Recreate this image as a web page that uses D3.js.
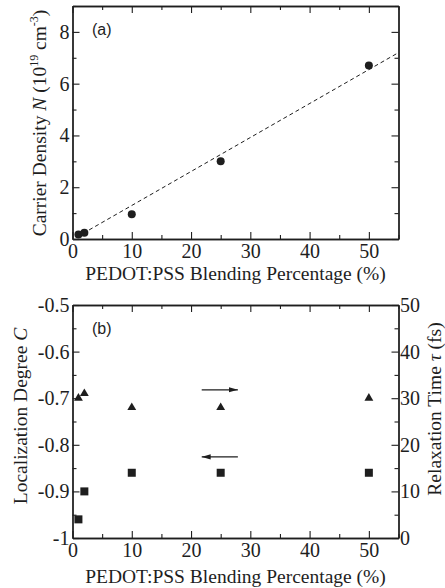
<!DOCTYPE html>
<html>
<head>
<meta charset="utf-8">
<script src="https://cdn.jsdelivr.net/npm/d3@7"></script>
<style>
  body { margin: 0; background: #fff; }
  svg text { font-family: "Liberation Serif", "DejaVu Serif", serif; }
  svg text.tag { font-family: "Liberation Sans", Arial, sans-serif; }
</style>
</head>
<body>
<svg id="chart"></svg>
<script>
// values
const blendPct = [1, 2, 10, 25, 50];
const carrierDensity = [0.17, 0.24, 0.96, 3.0, 6.7];   // 10^19 cm^-3
const fitLine = [[2.8, 0.35], [55, 7.2]];               // dashed guide line
const localization = [-0.96, -0.90, -0.86, -0.86, -0.86];
const relaxTime = [30, 31, 28, 28, 30];                 // fs
const arrowRight = { x0: 21.8, x1: 27.9, c: -0.682 };   // points to tau axis
const arrowLeft = { x0: 27.9, x1: 21.8, c: -0.826 };    // points to C axis

const xMajor = [0, 10, 20, 30, 40, 50];
const xMinor = [5, 15, 25, 35, 45, 55];
const nMajor = [0, 2, 4, 6, 8];
const nMinor = [1, 3, 5, 7, 9];
const cMajor = [-1, -0.9, -0.8, -0.7, -0.6, -0.5];
const cMinor = [-0.95, -0.85, -0.75, -0.65, -0.55];
const cLabels = ["-1", "-0.9", "-0.8", "-0.7", "-0.6", "-0.5"];
const tauMajor = [0, 10, 20, 30, 40, 50];
const tauMinor = [5, 15, 25, 35, 45];

const width = 445;
const height = 588;
const ink = "#1e1e1e";

const svg = d3.select("#chart")
    .attr("width", width)
    .attr("height", height);

const left = 72.5, right = 398.5;
const x = d3.scaleLinear().domain([0, 55]).range([left, right]);

const yN = d3.scaleLinear().domain([0, 9]).range([239, 6]);
const yC = d3.scaleLinear().domain([-1, -0.5]).range([538, 305]);
const yTau = d3.scaleLinear().domain([0, 50]).range([538, 305]);

function styleAxis(g) {
    g.attr("font-family", null).attr("font-size", 20);
    g.selectAll("path.domain").attr("stroke", ink).attr("stroke-width", 1.3);
    g.selectAll("line").attr("stroke", ink).attr("stroke-width", 1.1);
    g.selectAll("text").attr("fill", ink);
}

// one framed panel: ticks point inward on all four sides
function frame(yScale, yMajor, yMinor, yFmt, yRight) {
    const [y0, y1] = yScale.range();
    const hideLabels = g => g.selectAll("text").remove();

    svg.append("g")
        .attr("transform", `translate(0,${y0})`)
        .call(d3.axisBottom(x).tickValues(xMajor).tickSize(-7).tickSizeOuter(0).tickPadding(4.5))
        .call(styleAxis);
    svg.append("g")
        .attr("transform", `translate(0,${y0})`)
        .call(d3.axisBottom(x).tickValues(xMinor).tickSize(-4).tickSizeOuter(0).tickFormat(""))
        .call(styleAxis);
    svg.append("g")
        .attr("transform", `translate(0,${y1})`)
        .call(d3.axisTop(x).tickValues(xMajor).tickSize(-7).tickSizeOuter(0))
        .call(hideLabels).call(styleAxis);
    svg.append("g")
        .attr("transform", `translate(0,${y1})`)
        .call(d3.axisTop(x).tickValues(xMinor).tickSize(-4).tickSizeOuter(0).tickFormat(""))
        .call(styleAxis);

    svg.append("g")
        .attr("transform", `translate(${left},0)`)
        .call(d3.axisLeft(yScale).tickValues(yMajor).tickSize(-7).tickSizeOuter(0).tickPadding(3).tickFormat(yFmt))
        .call(styleAxis);
    svg.append("g")
        .attr("transform", `translate(${left},0)`)
        .call(d3.axisLeft(yScale).tickValues(yMinor).tickSize(-4).tickSizeOuter(0).tickFormat(""))
        .call(styleAxis);

    const rScale = yRight ? yRight.scale : yScale;
    const rAxis = svg.append("g")
        .attr("transform", `translate(${right},0)`)
        .call(d3.axisRight(rScale).tickValues(yRight ? yRight.major : yMajor).tickSize(-7).tickSizeOuter(0).tickPadding(1.5))
        .call(styleAxis);
    if (!yRight) rAxis.call(hideLabels);
    svg.append("g")
        .attr("transform", `translate(${right},0)`)
        .call(d3.axisRight(rScale).tickValues(yRight ? yRight.minor : yMinor).tickSize(-4).tickSizeOuter(0).tickFormat(""))
        .call(styleAxis);
}

function xTitle(baseline) {
    svg.append("text")
        .attr("x", (left + right) / 2)
        .attr("y", baseline)
        .attr("text-anchor", "middle")
        .attr("font-size", 19.5)
        .attr("fill", ink)
        .text("PEDOT:PSS Blending Percentage (%)");
}

function panelTag(label, y) {
    svg.append("text")
        .attr("class", "tag")
        .attr("x", 92)
        .attr("y", y)
        .attr("font-size", 16)
        .attr("fill", ink)
        .text(label);
}

function yTitle(xBase, yMid) {
    return svg.append("text")
        .attr("transform", `translate(${xBase},${yMid}) rotate(-90)`)
        .attr("text-anchor", "middle")
        .attr("font-size", 19.5)
        .attr("fill", ink);
}

// ---- (a) carrier density ----
frame(yN, nMajor, nMinor, d3.format("d"), null);

svg.append("line")
    .attr("x1", x(fitLine[0][0]))
    .attr("y1", yN(fitLine[0][1]))
    .attr("x2", x(fitLine[1][0]))
    .attr("y2", yN(fitLine[1][1]))
    .attr("stroke", ink)
    .attr("stroke-width", 1)
    .attr("stroke-dasharray", "4,3");

svg.append("g").selectAll("circle")
    .data(blendPct.map((p, i) => ({ p, n: carrierDensity[i] })))
    .enter().append("circle")
    .attr("cx", d => x(d.p))
    .attr("cy", d => yN(d.n))
    .attr("r", 4)
    .attr("fill", ink);

panelTag("(a)", 35);
xTitle(280);

const tA = yTitle(46, 123);
tA.append("tspan").text("Carrier Density ");
tA.append("tspan").attr("font-style", "italic").text("N");
tA.append("tspan").text(" (10");
tA.append("tspan").attr("font-size", 12).attr("dy", -8).text("19");
tA.append("tspan").attr("dy", 8).text(" cm");
tA.append("tspan").attr("font-size", 12).attr("dy", -8).text("-3");
tA.append("tspan").attr("dy", 8).text(")");

// ---- (b) localization degree and relaxation time ----
frame(yC, cMajor, cMinor, (d, i) => cLabels[i],
    { scale: yTau, major: tauMajor, minor: tauMinor });

svg.append("g").selectAll("rect")
    .data(blendPct.map((p, i) => ({ p, c: localization[i] })))
    .enter().append("rect")
    .attr("x", d => x(d.p) - 4)
    .attr("y", d => yC(d.c) - 4)
    .attr("width", 8)
    .attr("height", 8)
    .attr("fill", ink);

svg.append("g").selectAll("path")
    .data(blendPct.map((p, i) => ({ p, t: relaxTime[i] })))
    .enter().append("path")
    .attr("transform", d => `translate(${x(d.p)},${yTau(d.t)})`)
    .attr("d", d3.symbol(d3.symbolTriangle, 34))
    .attr("fill", ink);

svg.append("defs").append("marker")
    .attr("id", "head")
    .attr("markerUnits", "userSpaceOnUse")
    .attr("viewBox", "0 -3 9 6")
    .attr("refX", 9)
    .attr("refY", 0)
    .attr("markerWidth", 9)
    .attr("markerHeight", 6)
    .attr("orient", "auto")
    .append("path")
    .attr("d", "M0,-2.6L9,0L0,2.6Z")
    .attr("fill", ink);

[arrowRight, arrowLeft].forEach(a => {
    svg.append("line")
        .attr("x1", x(a.x0))
        .attr("x2", x(a.x1))
        .attr("y1", yC(a.c))
        .attr("y2", yC(a.c))
        .attr("stroke", ink)
        .attr("stroke-width", 1.3)
        .attr("marker-end", "url(#head)");
});

panelTag("(b)", 334);
xTitle(583);

const tB = yTitle(27, 416);
tB.append("tspan").text("Localization Degree ");
tB.append("tspan").attr("font-style", "italic").text("C");

const tR = yTitle(441, 409);
tR.append("tspan").text("Relaxation Time ");
tR.append("tspan").attr("font-style", "italic").text("τ");
tR.append("tspan").text(" (fs)");
</script>
</body>
</html>
